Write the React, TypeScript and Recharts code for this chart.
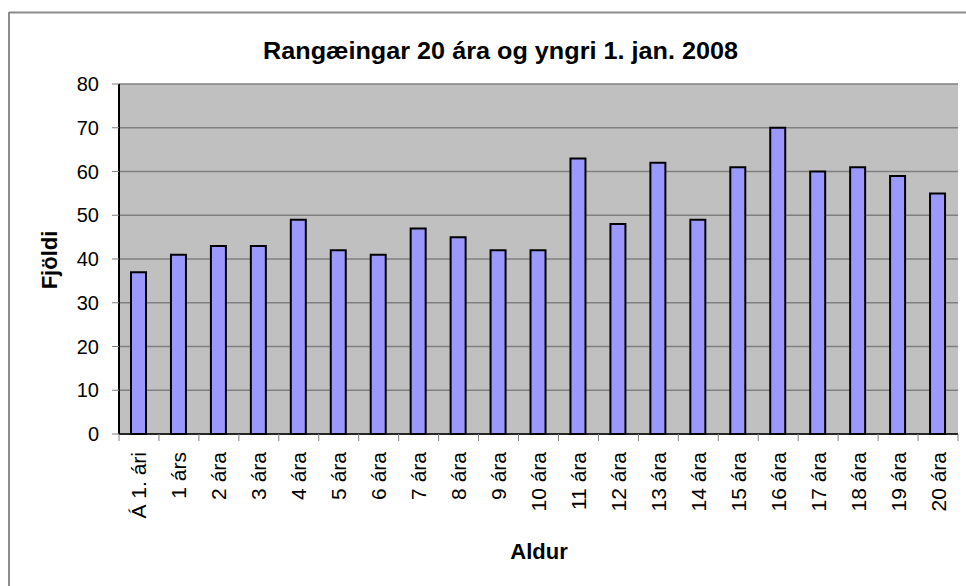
import { BarChart, Bar, XAxis, YAxis, CartesianGrid } from 'recharts';

const ages = [
  'Á 1. ári', '1 árs', '2 ára', '3 ára', '4 ára', '5 ára', '6 ára', '7 ára', '8 ára', '9 ára', '10 ára',
  '11 ára', '12 ára', '13 ára', '14 ára', '15 ára', '16 ára', '17 ára', '18 ára', '19 ára', '20 ára',
];
const counts = [37, 41, 43, 43, 49, 42, 41, 47, 45, 42, 42, 63, 48, 62, 49, 61, 70, 60, 61, 59, 55];
const yTicks = [0, 10, 20, 30, 40, 50, 60, 70, 80];

const FONT = '"Liberation Sans", Arial, sans-serif';

// plot area in page pixels
const PLOT_LEFT = 119;
const PLOT_RIGHT = 958;
const PLOT_TOP = 84;
const PLOT_BOTTOM = 434;
const STEP = (PLOT_RIGHT - PLOT_LEFT) / ages.length;

const data = ages.map((age, i) => ({ age, count: counts[i] }));

// x tick: rotated label + tick marks at category boundaries
function AgeTick({ x, y, payload, index }: { x?: number; y?: number; payload?: { value: string }; index?: number }) {
  if (x == null || y == null || !payload) return null;
  const base = PLOT_BOTTOM;
  return (
    <g>
      <line x1={x + STEP / 2} x2={x + STEP / 2} y1={base} y2={base + 7} stroke="#808080" strokeWidth={1} />
      {index === 0 && (
        <line x1={x - STEP / 2} x2={x - STEP / 2} y1={base} y2={base + 7} stroke="#808080" strokeWidth={1} />
      )}
      <text
        transform={`translate(${x},${base + 18}) rotate(-90)`}
        textAnchor="end" dominantBaseline="central"
        fontSize={21} fontFamily={FONT} fill="#000">
        {payload.value}
      </text>
    </g>
  );
}

export default function App() {
  return (
    <div style={{ position: 'absolute', left: 0, top: 0, width: 966, height: 586, overflow: 'hidden', background: '#fff' }}>
      <BarChart
        width={966} height={586} data={data}
        margin={{ top: PLOT_TOP, right: 966 - PLOT_RIGHT, left: PLOT_LEFT - 60, bottom: 0 }}
        barSize={15}
      >
        <CartesianGrid yAxisId="left" vertical={false} fill="#C0C0C0" stroke="#808080" strokeWidth={1.5} />
        <XAxis
          dataKey="age" interval={0} height={586 - PLOT_BOTTOM}
          tick={<AgeTick />} tickLine={false} tickSize={0} tickMargin={0}
          axisLine={{ stroke: '#000', strokeWidth: 1.5 }}
        />
        <YAxis
          yAxisId="left" width={60} domain={[0, 80]} ticks={yTicks} interval={0}
          tickSize={7} tickMargin={13}
          tickLine={{ stroke: '#808080' }}
          axisLine={{ stroke: '#000', strokeWidth: 2 }}
          tick={{ fontSize: 20, fill: '#000', fontFamily: FONT }}
        />
        <YAxis
          yAxisId="right" orientation="right" width={0} domain={[0, 80]}
          tick={false} tickLine={false} axisLine={{ stroke: '#808080', strokeWidth: 2 }}
        />
        <Bar yAxisId="left" dataKey="count" fill="#9999FF" stroke="#000" strokeWidth={2} isAnimationActive={false} />
      </BarChart>
      <svg width={966} height={586} style={{ position: 'absolute', left: 0, top: 0, pointerEvents: 'none' }}>
        <line x1={9} x2={966} y1={12.5} y2={12.5} stroke="#8c8c8c" strokeWidth={2} />
        <line x1={9} x2={9} y1={12} y2={586} stroke="#8c8c8c" strokeWidth={2} />
        <text x={500.5} y={59} textAnchor="middle" fontSize={23} fontWeight="bold" fontFamily={FONT} fill="#000"
          textLength={475} lengthAdjust="spacingAndGlyphs">
          Rangæingar 20 ára og yngri 1. jan. 2008
        </text>
        <text x={539} y={559} textAnchor="middle" fontSize={22} fontWeight="bold" fontFamily={FONT} fill="#000">
          Aldur
        </text>
        <text transform="translate(57,260) rotate(-90)" textAnchor="middle" fontSize={22} fontWeight="bold" fontFamily={FONT} fill="#000">
          Fjöldi
        </text>
      </svg>
    </div>
  );
}
